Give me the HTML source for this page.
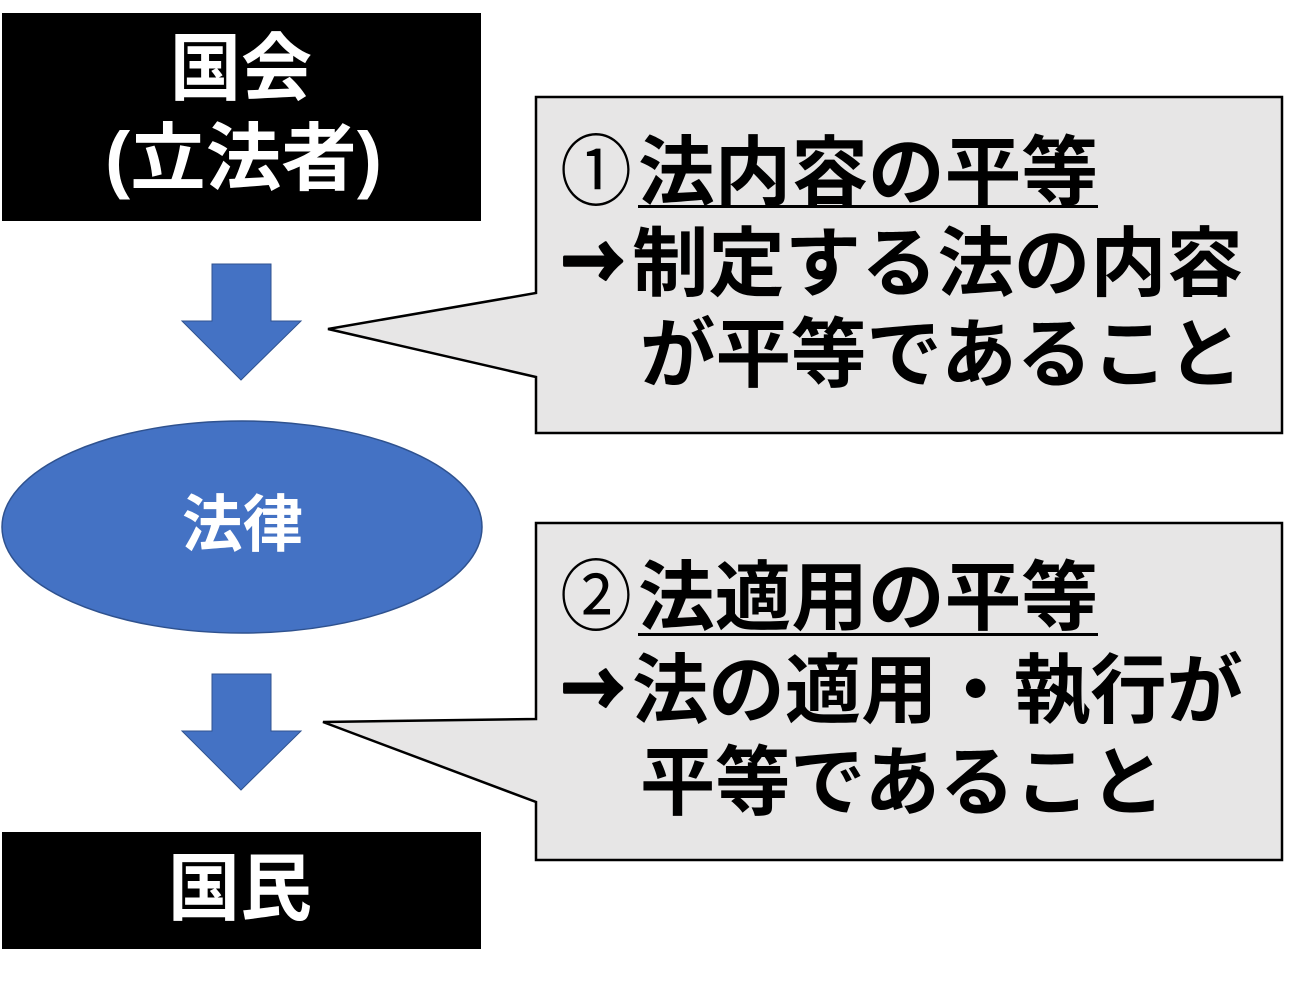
<!DOCTYPE html>
<html>
<head>
<meta charset="utf-8">
<style>
  html, body { margin: 0; padding: 0; background: #ffffff; }
  body { width: 1300px; height: 983px; overflow: hidden; }
  svg { display: block; }
  text { font-family: "Liberation Sans", "Noto Sans CJK JP", sans-serif; font-weight: bold; }
  text.cjk { font-family: "Noto Sans CJK JP", sans-serif; }
  text.thin { font-family: "Noto Sans CJK JP", sans-serif; font-weight: normal; }
</style>
</head>
<body>
<svg width="1300" height="983" viewBox="0 0 1300 983" xmlns="http://www.w3.org/2000/svg">
  <!-- Top black box -->
  <rect x="2" y="13" width="479" height="208" fill="#000000"/>
  <text x="170" y="94" font-size="74" fill="#ffffff" textLength="142" lengthAdjust="spacingAndGlyphs">国会</text>
  <text x="105" y="184" font-size="74" fill="#ffffff" textLength="277" lengthAdjust="spacingAndGlyphs">(立法者)</text>

  <!-- Arrow 1 -->
  <polygon points="212,264 271,264 271,321 301,321 241,380 182,321 212,321" fill="#4472C4" stroke="#2F528F" stroke-width="1"/>

  <!-- Ellipse -->
  <ellipse cx="242" cy="527" rx="240" ry="106" fill="#4472C4" stroke="#2F528F" stroke-width="1.5"/>
  <text x="182" y="546" font-size="62" fill="#ffffff" textLength="121" lengthAdjust="spacingAndGlyphs">法律</text>

  <!-- Arrow 2 -->
  <polygon points="212,674 271,674 271,731 301,731 241,790 182,731 212,731" fill="#4472C4" stroke="#2F528F" stroke-width="1"/>

  <!-- Bottom black box -->
  <rect x="2" y="832" width="479" height="117" fill="#000000"/>
  <text x="168" y="914" font-size="74" fill="#ffffff" textLength="144" lengthAdjust="spacingAndGlyphs">国民</text>

  <!-- Callout 1 -->
  <path d="M536,97 L1282,97 L1282,433 L536,433 L536,377 L328,329 L536,293 Z" fill="#E7E6E6" stroke="#000000" stroke-width="2.5" stroke-linejoin="miter"/>
  <text class="thin" x="560" y="199" font-size="78" fill="#000000" textLength="72" lengthAdjust="spacingAndGlyphs">①</text>
  <text class="cjk" x="638" y="199" font-size="76" fill="#000000" textLength="460" lengthAdjust="spacingAndGlyphs">法内容の平等</text>
  <rect x="638" y="205" width="460" height="3" fill="#000000"/>
  <text class="cjk" x="562" y="290" font-size="76" fill="#000000" stroke="#000000" stroke-width="3.5" stroke-linejoin="round" textLength="62" lengthAdjust="spacingAndGlyphs">→</text>
  <text class="cjk" x="632" y="290" font-size="76" fill="#000000" textLength="611" lengthAdjust="spacingAndGlyphs">制定する法の内容</text>
  <text class="cjk" x="640" y="381" font-size="76" fill="#000000" textLength="603" lengthAdjust="spacingAndGlyphs">が平等であること</text>

  <!-- Callout 2 -->
  <path d="M536,523 L1282,523 L1282,860 L536,860 L536,802 L323,722 L536,719 Z" fill="#E7E6E6" stroke="#000000" stroke-width="2.5" stroke-linejoin="miter"/>
  <text class="thin" x="560" y="624" font-size="78" fill="#000000" textLength="72" lengthAdjust="spacingAndGlyphs">②</text>
  <text class="cjk" x="638" y="624" font-size="76" fill="#000000" textLength="460" lengthAdjust="spacingAndGlyphs">法適用の平等</text>
  <rect x="638" y="633" width="460" height="3" fill="#000000"/>
  <text class="cjk" x="562" y="717" font-size="76" fill="#000000" stroke="#000000" stroke-width="3.5" stroke-linejoin="round" textLength="62" lengthAdjust="spacingAndGlyphs">→</text>
  <text class="cjk" x="632" y="717" font-size="76" fill="#000000" textLength="611" lengthAdjust="spacingAndGlyphs">法の適用・執行が</text>
  <text class="cjk" x="640" y="809" font-size="76" fill="#000000" textLength="525" lengthAdjust="spacingAndGlyphs">平等であること</text>
</svg>
</body>
</html>
